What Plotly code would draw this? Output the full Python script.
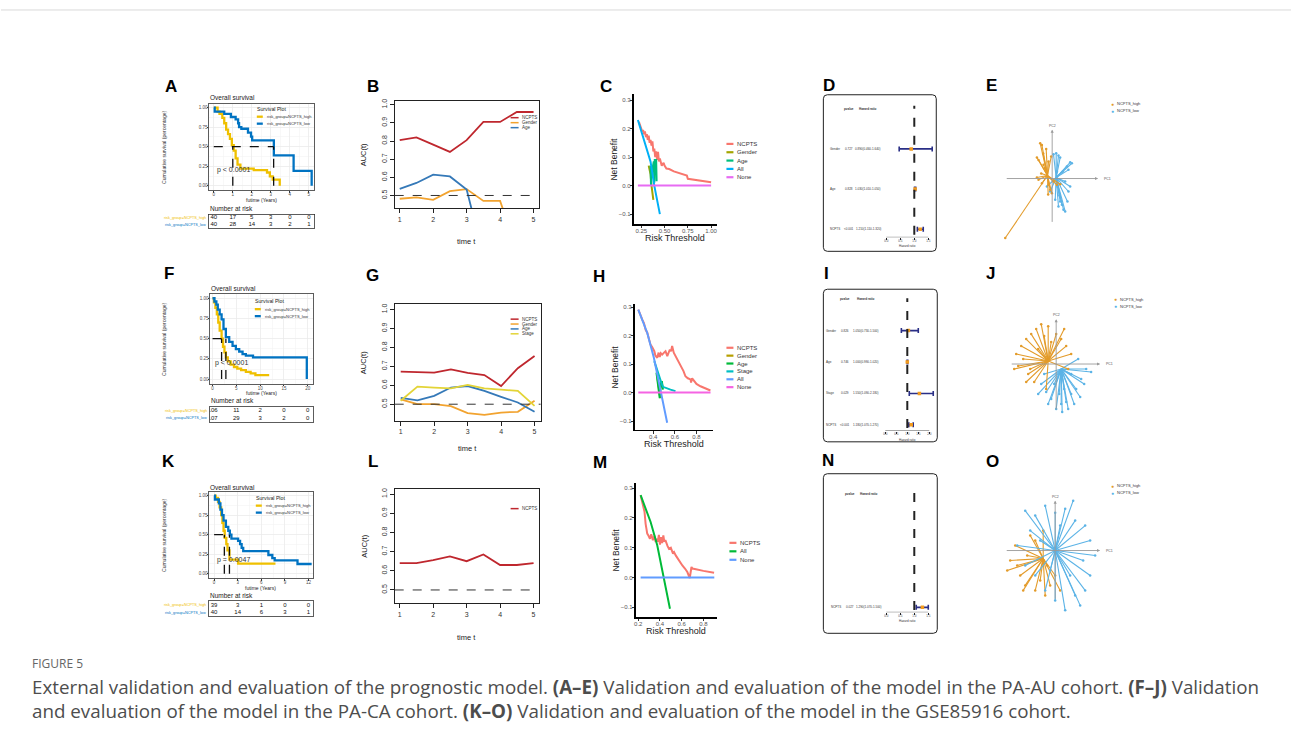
import plotly.graph_objects as go

W, H = 1291, 744
FONT = "Liberation Sans, Arial, sans-serif"
CAPFONT = "Open Sans, Noto Sans, sans-serif"

# ======================= DATA =======================
KM_HIGH = "#EFC000"
KM_LOW = "#0073C2"

# --- Panel A (KM, PA-AU) ---
A_high_t = [0, 0.2, 0.3, 0.45, 0.55, 0.65, 0.75, 0.85, 0.95, 1.05, 1.15, 1.25, 1.4, 2.1, 2.8, 2.95, 3.1, 3.47]
A_high_s = [1.0, 0.95, 0.92, 0.87, 0.80, 0.72, 0.66, 0.60, 0.52, 0.45, 0.35, 0.27, 0.22, 0.20, 0.17, 0.12, 0.08, 0.0]
A_low_t = [0, 0.05, 0.55, 0.9, 1.15, 1.28, 1.33, 1.45, 1.8, 1.96, 2.02, 3.16, 4.2, 5.15]
A_low_s = [1.0, 0.95, 0.92, 0.88, 0.85, 0.80, 0.75, 0.73, 0.68, 0.63, 0.58, 0.39, 0.19, 0.0]
A_median = [1.0, 3.15]
A_xticks = [0, 1, 2, 3, 4, 5]
A_risk_high = ["40", "17", "5", "3", "0", "0"]
A_risk_low = ["40", "28", "14", "3", "2", "1"]
A_p = "p < 0.0001"

# --- Panel F (KM, PA-CA) ---
F_high_t = [0, 0.3, 0.6, 0.9, 1.2, 1.5, 1.9, 2.2, 2.5, 2.8, 3.2, 3.8, 4.5, 5.2, 6.0, 7.0, 8.0, 9.0, 11.9]
F_high_s = [1.0, 0.95, 0.88, 0.80, 0.70, 0.60, 0.50, 0.40, 0.33, 0.27, 0.22, 0.18, 0.15, 0.13, 0.11, 0.09, 0.07, 0.05, 0.05]
F_low_t = [0, 0.4, 0.8, 1.1, 1.5, 1.9, 2.3, 2.8, 3.5, 4.2, 4.9, 5.6, 6.3, 7.0, 8.5, 19.8]
F_low_s = [1.0, 0.96, 0.92, 0.86, 0.80, 0.74, 0.62, 0.52, 0.46, 0.41, 0.37, 0.34, 0.31, 0.29, 0.27, 0.0]
F_median = [1.9, 2.8]
F_xticks = [0, 5, 10, 15, 20]
F_risk_high = ["106", "11", "2", "0", "0"]
F_risk_low = ["107", "29", "3", "2", "0"]
F_p = "p < 0.0001"

# --- Panel K (KM, GSE85916) ---
K_high_t = [0, 0.2, 0.5, 0.7, 0.9, 1.05, 1.2, 1.35, 1.55, 1.7, 1.95, 3.05, 7.8]
K_high_s = [1.0, 0.97, 0.92, 0.85, 0.75, 0.65, 0.55, 0.46, 0.38, 0.30, 0.18, 0.13, 0.13]
K_low_t = [0, 0.1, 0.6, 0.8, 1.0, 1.2, 1.5, 1.8, 2.0, 2.2, 3.05, 3.3, 3.5, 3.7, 6.9, 7.4, 7.7, 10.6, 12.4]
K_low_s = [1.0, 0.95, 0.9, 0.82, 0.75, 0.68, 0.6, 0.55, 0.5, 0.45, 0.42, 0.38, 0.33, 0.29, 0.24, 0.2, 0.17, 0.125, 0.125]
K_median = [1.3, 1.95]
K_xticks = [0, 3, 6, 9, 12]
K_risk_high = ["39", "3", "1", "0", "0"]
K_risk_low = ["40", "14", "6", "3", "1"]
K_p = "p = 0.0047"

# --- time-dependent AUC (B, G, L) ---
auc_t = [1, 1.5, 2, 2.5, 3, 3.5, 4, 4.5, 5]
B_ncpts = [0.805, 0.82, 0.78, 0.74, 0.805, 0.905, 0.905, 0.96, 0.96]
B_gender = [0.482, 0.49, 0.476, 0.524, 0.535, 0.47, 0.47, 0.20]
B_age = [0.536, 0.569, 0.615, 0.605, 0.533, 0.17]
G_ncpts = [0.672, 0.67, 0.667, 0.684, 0.665, 0.654, 0.596, 0.69, 0.754]
G_gender = [0.526, 0.5, 0.5, 0.49, 0.453, 0.444, 0.456, 0.46, 0.518]
G_age = [0.533, 0.52, 0.544, 0.588, 0.596, 0.57, 0.539, 0.509, 0.46]
G_stage = [0.518, 0.593, 0.588, 0.584, 0.602, 0.584, 0.577, 0.57, 0.491]
L_ncpts = [0.64, 0.64, 0.655, 0.675, 0.65, 0.685, 0.63, 0.63, 0.64]
AUC_COL = {"NCPTS": "#BF272E", "Gender": "#F2A32F", "Age": "#3579B8", "Stage": "#E3D437"}

# --- decision curves (C, H, M) ---
C_ncpts_x = [0.225, 0.25, 0.26, 0.27, 0.28, 0.29, 0.30, 0.31, 0.32, 0.33, 0.34, 0.35, 0.36, 0.37, 0.38, 0.39, 0.40,
             0.41, 0.42, 0.43, 0.44, 0.45, 0.47, 0.49, 0.50, 0.52, 0.55, 0.60, 0.65, 0.70, 0.74, 0.75, 0.80, 0.90, 1.00]
C_ncpts_y = [0.224, 0.20, 0.19, 0.195, 0.18, 0.19, 0.17, 0.18, 0.16, 0.175, 0.15, 0.16, 0.14, 0.155, 0.12, 0.13, 0.10,
             0.12, 0.09, 0.118, 0.085, 0.095, 0.07, 0.08, 0.07, 0.06, 0.058, 0.05, 0.045, 0.04, 0.035, 0.024, 0.022, 0.018, 0.012]
C_gender_x = [0.33, 0.35, 0.36, 0.37, 0.38]
C_gender_y = [0.07, 0.04, 0.0, -0.02, -0.05]
C_age_x = [0.35, 0.355, 0.36, 0.385, 0.39, 0.395, 0.41, 0.415]
C_age_y = [0.07, 0.0, 0.04, 0.085, 0.01, 0.09, 0.09, 0.015]
C_all_x = [0.214, 0.25, 0.30, 0.35, 0.39, 0.42, 0.45]
C_all_y = [0.23, 0.19, 0.14, 0.084, 0.0, -0.05, -0.10]
C_none_x = [0.214, 1.0]
C_none_y = [0.0, 0.0]

H_ncpts_x = [0.262, 0.28, 0.30, 0.314, 0.33, 0.345, 0.36, 0.375, 0.39, 0.41, 0.42, 0.437, 0.45, 0.46, 0.47, 0.483, 0.50,
             0.514, 0.53, 0.54, 0.554, 0.565, 0.575, 0.59, 0.62, 0.652, 0.68, 0.698, 0.72, 0.745, 0.75, 0.76, 0.80, 0.837, 0.88, 0.929]
H_ncpts_y = [0.291, 0.27, 0.255, 0.244, 0.22, 0.21, 0.19, 0.168, 0.16, 0.145, 0.13, 0.122, 0.14, 0.125, 0.138, 0.133, 0.14,
             0.145, 0.128, 0.14, 0.151, 0.145, 0.163, 0.14, 0.12, 0.098, 0.075, 0.057, 0.05, 0.046, 0.035, 0.05, 0.03, 0.022, 0.015, 0.007]
H_gender_x = [0.44, 0.455, 0.465]
H_gender_y = [0.05, 0.0, -0.02]
H_age_x = [0.43, 0.44, 0.45, 0.46, 0.47, 0.48, 0.49]
H_age_y = [0.07, 0.04, 0.0, -0.02, 0.03, 0.04, 0.01]
H_stage_x = [0.41, 0.43, 0.45, 0.47, 0.49, 0.52, 0.56, 0.606]
H_stage_y = [0.11, 0.085, 0.06, 0.04, 0.02, 0.015, 0.01, 0.005]
H_all_x = [0.262, 0.30, 0.345, 0.406, 0.468, 0.529]
H_all_y = [0.291, 0.25, 0.209, 0.122, 0.005, -0.106]
H_none_x = [0.262, 0.93]
H_none_y = [0.0, 0.0]

M_ncpts_x = [0.222, 0.24, 0.258, 0.268, 0.283, 0.295, 0.308, 0.32, 0.335, 0.35, 0.36, 0.37, 0.38, 0.39, 0.40, 0.41, 0.42,
             0.431, 0.44, 0.45, 0.46, 0.47, 0.483, 0.50, 0.52, 0.53, 0.545, 0.56, 0.58, 0.606, 0.63, 0.652, 0.674, 0.69,
             0.70, 0.72, 0.80, 0.898]
M_ncpts_y = [0.276, 0.25, 0.22, 0.18, 0.147, 0.14, 0.13, 0.145, 0.125, 0.14, 0.119, 0.13, 0.12, 0.143, 0.11, 0.135, 0.115,
             0.141, 0.12, 0.125, 0.11, 0.105, 0.096, 0.10, 0.08, 0.085, 0.074, 0.065, 0.055, 0.04, 0.03, 0.018, -0.002, 0.035,
             0.03, 0.028, 0.022, 0.016]
M_all_x = [0.222, 0.26, 0.314, 0.375, 0.431, 0.492]
M_all_y = [0.276, 0.24, 0.186, 0.108, 0.0, -0.105]
M_none_x = [0.222, 0.9]
M_none_y = [0.0, 0.0]

# --- multivariate Cox forest plots (D, I, N) ---
D_vars = ["Gender", "Age", "NCPTS"]
D_p = ["0.727", "0.828", "<0.001"]
D_hr = [0.89, 1.03, 1.21]
D_lo = [0.46, 1.01, 1.11]
D_hi = [1.64, 1.05, 1.32]
D_ticks = [0.0, 0.5, 1.0, 1.5]
I_vars = ["Gender", "Age", "Stage", "NCPTS"]
I_p = ["0.826", "0.746", "0.029", "<0.001"]
I_hr = [1.05, 1.00, 1.55, 1.18]
I_lo = [0.73, 0.99, 1.09, 1.07]
I_hi = [1.50, 1.02, 2.18, 1.27]
I_ticks = [0.0, 0.5, 1.0, 1.5, 2.0]
N_vars = ["NCPTS"]
N_p = ["0.027"]
N_hr = [1.29]
N_lo = [1.07]
N_hi = [1.50]
N_ticks = [0.0, 0.5, 1.0, 1.5]

# --- PCA star plots (E, J, O) : group centroid and sample scores ---
E_high_c = (-4.7, 3.0)
E_high_x = [-12, -10.3, -6, -15.3, -13.7, -3.7, -8.7, -7, -15.3, -13.7, -10.3, -3.7, -2, -0.3, 1.3, 4.7, 8, -6, -47, -9, -11, -1, -4]
E_high_y = [35.3, 33.7, 29.7, 21, 18.7, 17, 13.7, 10.3, 1, -1.3, -4.7, -6.3, -11.3, -14.7, -3, -6.3, -5.7, 7, -59.7, 25, 5, 22, -16]
E_low_c = (4.0, 1.0)
E_low_x = [1.3, 4, 6.3, 8, 18, 19.7, 14.7, 16.3, 5.3, 7.3, 9.7, 11.3, 13, 15.3, 16.3, 18, 8, 6.3, 3, -2, -5.3, 13, 10.7, 4.7]
E_low_y = [24.3, 25.3, 23, 21, 16.3, 15.3, 12, 8.7, -8, -17, -26.3, -31.3, -33, -23, -13, -8, -23, -28, -21.3, -13, -8, -3, 7, 7]
J_high_c = (-8.0, 3.0)
J_high_x = [-40, -38, -35, -30, -28, -25, -22, -20, -15, -12, -10, -8, -5, 0, 5, 10, 12, -33, -26, -18, -30, 8, 15, -42]
J_high_y = [10, -2, 18, 25, -10, 30, -18, 35, 40, 28, -25, 38, 22, 30, 25, 18, -5, 5, -5, 15, -18, 35, 10, -5]
J_low_c = (5.0, -5.0)
J_low_x = [0, 5, 10, 15, 20, 25, 30, -5, -10, -15, 3, 12, 18, 28, 22, -8, 8, -2, 35, 15, -12, 6, 24, -18]
J_low_y = [-45, -40, -38, -30, -25, -15, -5, -35, -28, -20, -30, -45, -40, -20, 5, -40, -25, -20, -8, -10, -10, -48, -33, -30]
O_high_c = (-12.0, -8.0)
O_high_x = [-45, -40, -35, -30, -25, -20, -15, -10, -5, 0, -48, -38, -28, -12, 5, -20, -32, -8]
O_high_y = [-10, 5, -25, -35, 15, -40, -30, -45, -35, -25, -20, -15, -5, 20, -40, 10, -40, -15]
O_low_c = (0.0, 0.0)
O_low_x = [-30, -20, -10, 0, 10, 20, 30, 35, 40, 35, 30, 25, 20, 10, 0, -10, -20, -30, -38, -25, 15, 5, -15, 28, -5, 18]
O_low_y = [40, 35, 45, 38, 42, 30, 25, 10, -5, -25, -40, -55, -45, -60, -50, -40, -25, -15, 5, 20, -25, 25, 10, -10, -20, 50]
PCA_HIGH = "#E39B2A"
PCA_LOW = "#5BB3E6"

CAPTION_1 = ("External validation and evaluation of the prognostic model. <b>(A–E)</b> Validation and evaluation of the "
             "model in the PA-AU cohort. <b>(F–J)</b> Validation")
CAPTION_2 = ("and evaluation of the model in the PA-CA cohort. <b>(K–O)</b> Validation and evaluation of the model in "
             "the GSE85916 cohort.")

# ======================= BUILD =======================
fig = go.Figure()
ann, shapes, axes_layout = [], [], {}
_n = [0]


def new_axes(x0, x1, y0, y1, xr, yr, xkw=None, ykw=None):
    _n[0] += 1
    s = '' if _n[0] == 1 else str(_n[0])
    base = dict(showgrid=False, zeroline=False, showline=False, ticks='', showticklabels=False, fixedrange=True)
    xd = dict(base, domain=[x0 / W, x1 / W], range=xr, anchor='y' + s)
    yd = dict(base, domain=[1 - y1 / H, 1 - y0 / H], range=yr, anchor='x' + s)
    if xkw:
        xd.update(xkw)
    if ykw:
        yd.update(ykw)
    axes_layout['xaxis' + s] = xd
    axes_layout['yaxis' + s] = yd
    return 'x' + s, 'y' + s


def text(x, y, s, size=6, color='#000', xa='center', ya='middle', angle=0, family=FONT, xref='paper', yref='paper',
         align='center'):
    if xref == 'paper':
        x = x / W
    if yref == 'paper':
        y = 1 - y / H
    ann.append(dict(x=x, y=y, xref=xref, yref=yref, text=s, showarrow=False, textangle=angle, align=align,
                    font=dict(size=size, color=color, family=family), xanchor=xa, yanchor=ya, borderpad=0))


def pline(x0, y0, x1, y1, color, width=1.0, dash='solid'):
    shapes.append(dict(type='line', xref='paper', yref='paper', x0=x0 / W, y0=1 - y0 / H, x1=x1 / W, y1=1 - y1 / H,
                       line=dict(color=color, width=width, dash=dash)))


def panel_label(x, y, s):
    text(x, y, "<b>%s</b>" % s, size=17, color='#000', xa='center')


def line_trace(xa, ya, x, y, color, width=2.0, shape='linear'):
    fig.add_trace(go.Scatter(x=x, y=y, xaxis=xa, yaxis=ya, mode='lines', hoverinfo='skip',
                             line=dict(color=color, width=width, shape=shape)))


# ---------- Kaplan-Meier ----------
def km_panel(box, tbox, xr, xticks, minor, ht, hs, lt, ls, median, ptext, ppos, rh, rl, title_y, xlab_y, leg):
    x0, x1, y0, y1 = box
    tick = dict(showline=True, mirror=True, linecolor='#333', linewidth=0.8, showgrid=True, gridcolor='#e9e9e9',
                gridwidth=0.6, ticks='outside', ticklen=1.5, tickcolor='#333', showticklabels=True,
                ticklabelstandoff=-2, tickfont=dict(size=4.5, color='#4d4d4d', family=FONT))
    xa, ya = new_axes(x0, x1, y0, y1, xr, [-0.06, 1.05],
                      xkw=dict(tick, tickvals=xticks, minor=dict(dtick=minor, tick0=0, showgrid=True, gridcolor='#f4f4f4')),
                      ykw=dict(tick, tickvals=[0, 0.25, 0.5, 0.75, 1.0], ticktext=['0.00', '0.25', '0.50', '0.75', '1.00'],
                               minor=dict(dtick=0.125, tick0=0, showgrid=True, gridcolor='#f4f4f4')))
    line_trace(xa, ya, ht, hs, KM_HIGH, 2.3, 'hv')
    line_trace(xa, ya, lt, ls, KM_LOW, 2.3, 'hv')
    shapes.append(dict(type='line', xref=xa, yref=ya, x0=0, x1=max(median), y0=0.5, y1=0.5,
                       line=dict(color='#111', width=1.3, dash='dash')))
    for m in median:
        shapes.append(dict(type='line', xref=xa, yref=ya, x0=m, x1=m, y0=0, y1=0.5,
                           line=dict(color='#111', width=1.3, dash='dash')))
    text(ppos[0], ppos[1], ptext, size=7, color='#333', xa='left', xref=xa, yref=ya)
    text(x0, title_y, "Overall survival", size=6.5, color='#222', xa='left')
    text((x0 + x1) / 2, xlab_y, "futime (Years)", size=5, color='#222')
    text(163, (y0 + y1) / 2, "Cumulative survival (percentage)", size=5, color='#333', angle=-90)
    lx, ly = leg
    text(lx, ly, "Survival Plot", size=5.2, color='#222', xa='left')
    pline(lx + 1, ly + 8, lx + 7, ly + 8, KM_HIGH, 2.3)
    pline(lx + 1, ly + 15, lx + 7, ly + 15, KM_LOW, 2.3)
    text(lx + 10, ly + 8, "risk_group=NCPTS_high", size=4, color='#333', xa='left')
    text(lx + 10, ly + 15, "risk_group=NCPTS_low", size=4, color='#333', xa='left')
    # risk table
    tx0, tx1, ty0, ty1 = tbox
    ta, tya = new_axes(tx0, tx1, ty0, ty1, xr, [0, 2],
                       xkw=dict(showline=True, mirror=True, linecolor='#333', linewidth=0.8),
                       ykw=dict(showline=True, mirror=True, linecolor='#333', linewidth=0.8))
    fig.add_trace(go.Scatter(x=xticks, y=[1.5] * len(xticks), text=rh, mode='text', xaxis=ta, yaxis=tya,
                             textfont=dict(size=6, color='#111', family=FONT), hoverinfo='skip'))
    fig.add_trace(go.Scatter(x=xticks, y=[0.5] * len(xticks), text=rl, mode='text', xaxis=ta, yaxis=tya,
                             textfont=dict(size=6, color='#111', family=FONT), hoverinfo='skip'))
    text(tx0, ty0 - 6, "Number at risk", size=6.5, color='#222', xa='left')
    rh_y = ty0 + (ty1 - ty0) * 0.25
    rl_y = ty0 + (ty1 - ty0) * 0.75
    text(tx0 - 1.5, rh_y, "risk_group=NCPTS_high", size=3.8, color=KM_HIGH, xa='right')
    text(tx0 - 1.5, rl_y, "risk_group=NCPTS_low", size=3.8, color=KM_LOW, xa='right')


km_panel((208, 313, 102, 189), (208, 313, 213, 227), [-0.26, 5.26], A_xticks, 0.5,
         A_high_t, A_high_s, A_low_t, A_low_s, A_median, A_p, (0.1, 0.2), A_risk_high, A_risk_low, 96, 198.5, (255, 107))
km_panel((209, 312, 293, 383), (209, 312, 406, 421), [-0.57, 21.05], F_xticks, 2.5,
         F_high_t, F_high_s, F_low_t, F_low_s, F_median, F_p, (0.35, 0.2), F_risk_high, F_risk_low, 287, 392.5, (253, 300))
km_panel((208, 312, 491, 578), (208, 312, 601, 616), [-0.67, 12.54], K_xticks, 1.5,
         K_high_t, K_high_s, K_low_t, K_low_s, K_median, K_p, (0.2, 0.18), K_risk_high, K_risk_low, 487, 588, (254, 497))


# ---------- time-dependent AUC ----------
def auc_panel(box, xr, yr, series, leg_x, leg_y0, leg_dy, time_y):
    x0, x1, y0, y1 = box
    ax = dict(showline=True, mirror=True, linecolor='#222', linewidth=1, ticks='outside', ticklen=4, tickcolor='#222',
              showticklabels=True, tickfont=dict(size=7, color='#333', family=FONT))
    xa, ya = new_axes(x0, x1, y0, y1, xr, yr, xkw=dict(ax, tickvals=[1, 2, 3, 4, 5]),
                      ykw=dict(ax, tickvals=[0.5, 0.6, 0.7, 0.8, 0.9, 1.0],
                               ticktext=['0.5', '0.6', '0.7', '0.8', '0.9', '1.0'], tickangle=-90))
    shapes.append(dict(type='line', xref=xa + ' domain', yref=ya, x0=0, x1=1, y0=0.5, y1=0.5,
                       line=dict(color='#333', width=1, dash='dash')))
    for i, (name, vals) in enumerate(series):
        line_trace(xa, ya, auc_t[:len(vals)], vals, AUC_COL[name], 1.8)
        ly = leg_y0 + i * leg_dy
        pline(leg_x, ly, leg_x + 8, ly, AUC_COL[name], 1.5)
        text(leg_x + 10, ly, name, size=4.5, color='#333', xa='left')
    text(363, (y0 + y1) / 2, "AUC(t)", size=7.5, color='#222', angle=-90)
    text((x0 + x1) / 2, time_y, "time t", size=7.5, color='#222')


auc_panel((394, 538, 99, 207), [0.85, 5.15], [0.4286, 1.022],
          [("NCPTS", B_ncpts), ("Gender", B_gender), ("Age", B_age)], 510, 116, 5, 240)
auc_panel((394, 540, 303, 420), [0.82, 5.18], [0.412, 1.028],
          [("NCPTS", G_ncpts), ("Gender", G_gender), ("Age", G_age), ("Stage", G_stage)], 510, 318, 4.9, 448)
auc_panel((394, 538, 488, 603), [0.85, 5.15], [0.43, 1.028],
          [("NCPTS", L_ncpts)], 510, 508, 5, 637)


# ---------- decision curves ----------
def dca_panel(box, xr, yr, xticks, xtext, series, leg_x, leg_y0, leg_dy, lab_x, thr_y):
    x0, x1, y0, y1 = box
    ax = dict(showline=True, linecolor='#000', linewidth=1.3, ticks='outside', ticklen=2.5, tickcolor='#333',
              showticklabels=True, ticklabelstandoff=-2, tickfont=dict(size=6, color='#555', family=FONT))
    xa, ya = new_axes(x0, x1, y0, y1, xr, yr, xkw=dict(ax, tickvals=xticks, ticktext=xtext),
                      ykw=dict(ax, tickvals=[-0.1, 0.0, 0.1, 0.2, 0.3], ticktext=['\u22120.1', '0.0', '0.1', '0.2', '0.3']))
    for i, (name, xs, ys, col) in enumerate(series):
        line_trace(xa, ya, xs, ys, col, 2.0)
        ly = leg_y0 + i * leg_dy
        pline(leg_x, ly, leg_x + 7, ly, col, 2.2)
        text(leg_x + 10, ly, name, size=6, color='#333', xa='left')
    text(lab_x, (y0 + y1) / 2, "Net Benefit", size=8.5, color='#222', angle=-90)
    text((x0 + x1) / 2, thr_y, "Risk Threshold", size=9, color='#222')


dca_panel((633, 717, 92, 223), [0.167, 1.068], [-0.136, 0.322], [0.25, 0.5, 0.75, 1.0], ['0.25', '0.50', '0.75', '1.00'],
          [("NCPTS", C_ncpts_x, C_ncpts_y, "#F8766D"), ("Gender", C_gender_x, C_gender_y, "#A3A500"),
           ("Age", C_age_x, C_age_y, "#00BF7D"), ("All", C_all_x, C_all_y, "#00B0F6"),
           ("None", C_none_x, C_none_y, "#E76BF3")],
          726, 142.3, 8.35, 614, 237)
dca_panel((634, 713, 303, 429), [0.227, 0.957], [-0.131, 0.31], [0.4, 0.6, 0.8], ['0.4', '0.6', '0.8'],
          [("NCPTS", H_ncpts_x, H_ncpts_y, "#F8766D"), ("Gender", H_gender_x, H_gender_y, "#B79F00"),
           ("Age", H_age_x, H_age_y, "#00BA38"), ("Stage", H_stage_x, H_stage_y, "#00BFC4"),
           ("All", H_all_x, H_all_y, "#619CFF"), ("None", H_none_x, H_none_y, "#F564E3")],
          726, 346.7, 7.9, 614, 443)
dca_panel((635, 717, 482, 617), [0.175, 0.929], [-0.134, 0.318], [0.2, 0.4, 0.6, 0.8], ['0.2', '0.4', '0.6', '0.8'],
          [("NCPTS", M_ncpts_x, M_ncpts_y, "#F8766D"), ("All", M_all_x, M_all_y, "#00BA38"),
           ("None", M_none_x, M_none_y, "#619CFF")],
          729, 542.3, 8.5, 615, 631)


# ---------- forest plots ----------
def rounded_box(x0, y0, x1, y1, r=4):
    rx, ry = r / W, r / H
    X0, X1 = x0 / W, x1 / W
    Y0, Y1 = 1 - y1 / H, 1 - y0 / H
    path = (f"M {X0 + rx},{Y1} L {X1 - rx},{Y1} Q {X1},{Y1} {X1},{Y1 - ry} L {X1},{Y0 + ry} Q {X1},{Y0} {X1 - rx},{Y0} "
            f"L {X0 + rx},{Y0} Q {X0},{Y0} {X0},{Y0 + ry} L {X0},{Y1 - ry} Q {X0},{Y1} {X0 + rx},{Y1} Z")
    shapes.append(dict(type='path', xref='paper', yref='paper', path=path, line=dict(color='#222', width=1)))


def forest_panel(frame, plot_x, row0, row_dy, axis_y, top_y, ticks, px0, pxu, cols, names, pv, hr, lo, hi):
    fx0, fy0, fx1, fy1 = frame
    rounded_box(fx0, fy0, fx1, fy1)
    n = len(names)
    r_bot = (axis_y - row0) / row_dy
    r_top = (top_y - row0) / row_dy
    xr = [(plot_x[0] - px0) / pxu, (plot_x[1] - px0) / pxu]
    xa, ya = new_axes(plot_x[0], plot_x[1], top_y, axis_y, xr, [r_bot, r_top],
                      xkw=dict(ticks='outside', ticklen=2, tickcolor='#222', tickvals=ticks,
                               ticktext=['%.1f' % t for t in ticks], showticklabels=True, ticklabelstandoff=-2,
                               tickfont=dict(size=3, color='#444', family=FONT)))
    shapes.append(dict(type='line', xref=xa, yref=ya, x0=ticks[0], x1=ticks[-1], y0=r_bot, y1=r_bot,
                       line=dict(color='#222', width=0.8)))
    span = r_bot - r_top
    shapes.append(dict(type='line', xref=xa, yref=ya, x0=1, x1=1, y0=r_bot - 0.02 * span, y1=r_top + 0.03 * span,
                       line=dict(color='#222', width=2, dash='dash')))
    rows = list(range(1, n + 1))
    fig.add_trace(go.Scatter(x=hr, y=rows, xaxis=xa, yaxis=ya, mode='markers', hoverinfo='skip',
                             marker=dict(symbol='square', size=3.5, color='#F29B1E'),
                             error_x=dict(type='data', symmetric=False, array=[h - m for h, m in zip(hi, hr)],
                                          arrayminus=[m - l for m, l in zip(hr, lo)], color='#2A2F86',
                                          thickness=1.6, width=2.5)))
    lab_x, p_x, h_x = cols
    text(p_x, row0, "<b>pvalue</b>", size=3, color='#333', xa='center')
    text(h_x, row0, "<b>Hazard ratio</b>", size=3, color='#333', xa='center')
    for i in range(n):
        y = row0 + (i + 1) * row_dy
        text(lab_x, y, names[i], size=3, color='#333', xa='left')
        text(p_x, y, pv[i], size=3, color='#333', xa='center')
        text(h_x, y, "%.3f(%.3f-%.3f)" % (hr[i], lo[i], hi[i]), size=3, color='#333', xa='center')
    text(px0 + pxu * (ticks[0] + ticks[-1]) / 2, axis_y + 9, "Hazard ratio", size=3, color='#333')


forest_panel((823, 93, 936, 250), (878, 936), 107, 40.3, 236, 100, D_ticks, 886, 28,
             (829, 849, 868), D_vars, D_p, D_hr, D_lo, D_hi)
forest_panel((823, 288, 937, 441), (878, 936), 298, 31.5, 430, 293, I_ticks, 885, 22,
             (825, 845, 866), I_vars, I_p, I_hr, I_lo, I_hi)
forest_panel((823, 473, 937, 633), (878, 936), 493, 114, 612, 488, N_ticks, 886, 28,
             (830, 850, 869), N_vars, N_p, N_hr, N_lo, N_hi)


# ---------- PCA star plots ----------
def pca_panel(center, hx, vy, groups, leg):
    cx, cy = center
    xa, ya = new_axes(cx - 65, cx + 65, cy - 65, cy + 65, [-65, 65], [-65, 65])
    ann.append(dict(x=hx[1], y=0, ax=hx[0], ay=0, xref=xa, yref=ya, axref=xa, ayref=ya, text='', showarrow=True,
                    arrowhead=2, arrowsize=0.7, arrowwidth=0.9, arrowcolor='#9a9a9a'))
    ann.append(dict(x=0, y=vy[1], ax=0, ay=vy[0], xref=xa, yref=ya, axref=xa, ayref=ya, text='', showarrow=True,
                    arrowhead=2, arrowsize=0.7, arrowwidth=0.9, arrowcolor='#9a9a9a'))
    text(hx[1] + 5, 0, "PC1", size=3.5, color='#555', xa='left', xref=xa, yref=ya)
    text(0, vy[1] + 4, "PC2", size=3.5, color='#555', xref=xa, yref=ya)
    for (c, xs, ys, col) in groups:
        lx, ly = [], []
        for x, y in zip(xs, ys):
            lx += [c[0], x, None]
            ly += [c[1], y, None]
        fig.add_trace(go.Scatter(x=lx, y=ly, xaxis=xa, yaxis=ya, mode='lines', hoverinfo='skip',
                                 line=dict(color=col, width=1.1)))
        fig.add_trace(go.Scatter(x=xs, y=ys, xaxis=xa, yaxis=ya, mode='markers', hoverinfo='skip',
                                 marker=dict(color=col, size=2.5)))
    lx, ly = leg
    text(lx, ly, "\u25cf", size=5, color=PCA_HIGH, xa='center')
    text(lx, ly + 7, "\u25cf", size=5, color=PCA_LOW, xa='center')
    text(lx + 4, ly, "NCPTS_high", size=4, color='#333', xa='left')
    text(lx + 4, ly + 7, "NCPTS_low", size=4, color='#333', xa='left')


pca_panel((1052, 177), (-47, 46), (-45, 49),
          [(E_low_c, E_low_x, E_low_y, PCA_LOW), (E_high_c, E_high_x, E_high_y, PCA_HIGH)], (1112, 102))
pca_panel((1056, 363), (-46, 44), (-47, 45),
          [(J_low_c, J_low_x, J_low_y, PCA_LOW), (J_high_c, J_high_x, J_high_y, PCA_HIGH)], (1115, 298))
pca_panel((1055, 550), (-50, 45), (-50, 50),
          [(O_high_c, O_high_x, O_high_y, PCA_HIGH), (O_low_c, O_low_x, O_low_y, PCA_LOW)], (1112, 485))

# ---------- panel labels ----------
for s, x, y in [("A", 170, 85), ("B", 372, 85), ("C", 605, 85), ("D", 829, 84), ("E", 991, 84),
                ("F", 168, 272), ("G", 372, 274), ("H", 598, 275), ("I", 826, 272), ("J", 990, 272),
                ("K", 168, 461), ("L", 372, 461), ("M", 599, 462), ("N", 828, 460), ("O", 992, 461)]:
    panel_label(x, y, s)

# ---------- caption ----------
pline(0, 8, W, 8, '#d9d9d9', 1)
text(30, 663, "FIGURE 5", size=12, color='#666', xa='left', family=CAPFONT)
text(30, 698.5, CAPTION_1 + "<br>" + CAPTION_2, size=18.8, color='#4d4d4d', xa='left', family=CAPFONT, align='left')

fig.update_layout(width=W, height=H, margin=dict(l=0, r=0, t=0, b=0), paper_bgcolor='white',
                  plot_bgcolor='rgba(0,0,0,0)', showlegend=False, annotations=ann, shapes=shapes,
                  font=dict(family=FONT), **axes_layout)
fig.write_html("out.html", config={'displayModeBar': False, 'staticPlot': True},
               post_script="document.body.style.margin='0px';")
